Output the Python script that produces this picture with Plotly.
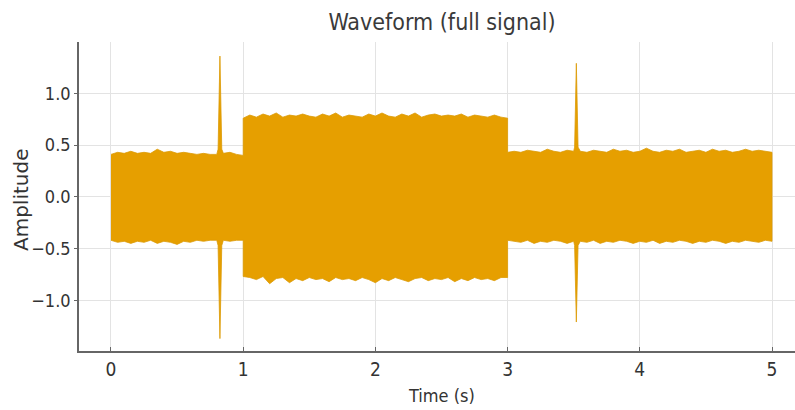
import plotly.graph_objects as go

# Envelope of the waveform (time in s, amplitude)
env_time = [
    0.00, 0.05, 0.10, 0.15, 0.20, 0.25, 0.30, 0.35, 0.40, 0.45,
    0.50, 0.55, 0.60, 0.65, 0.70, 0.75, 0.80, 0.81, 0.824, 0.838,
    0.85, 0.90, 0.95, 1.00, 1.00,
    1.05, 1.10, 1.15, 1.20, 1.25, 1.30, 1.35, 1.40, 1.45, 1.50,
    1.55, 1.60, 1.65, 1.70, 1.75, 1.80, 1.85, 1.90, 1.95, 2.00,
    2.05, 2.10, 2.15, 2.20, 2.25, 2.30, 2.35, 2.40, 2.45, 2.50,
    2.55, 2.60, 2.65, 2.70, 2.75, 2.80, 2.85, 2.90, 2.95, 3.00, 3.00,
    3.05, 3.10, 3.15, 3.20, 3.25, 3.30, 3.35, 3.40, 3.45, 3.50,
    3.507, 3.52, 3.533, 3.55, 3.60, 3.65, 3.70, 3.75, 3.80, 3.85,
    3.90, 3.95, 4.00, 4.05, 4.10, 4.15, 4.20, 4.25, 4.30, 4.35,
    4.40, 4.45, 4.50, 4.55, 4.60, 4.65, 4.70, 4.75, 4.80, 4.85,
    4.90, 4.95, 5.00,
]
env_upper = [
    0.41, 0.43, 0.42, 0.44, 0.42, 0.43, 0.42, 0.46, 0.43, 0.44,
    0.42, 0.43, 0.42, 0.41, 0.42, 0.41, 0.41, 0.46, 1.36, 0.46,
    0.42, 0.43, 0.41, 0.40, 0.76,
    0.79, 0.77, 0.80, 0.78, 0.81, 0.77, 0.79, 0.78, 0.80, 0.78,
    0.77, 0.80, 0.78, 0.81, 0.77, 0.79, 0.78, 0.77, 0.80, 0.78,
    0.81, 0.78, 0.77, 0.80, 0.78, 0.81, 0.77, 0.79, 0.80, 0.78,
    0.79, 0.78, 0.80, 0.77, 0.79, 0.78, 0.77, 0.79, 0.77, 0.76, 0.43,
    0.44, 0.43, 0.45, 0.44, 0.43, 0.46, 0.44, 0.43, 0.45, 0.44,
    0.48, 1.29, 0.48, 0.44, 0.43, 0.45, 0.44, 0.43, 0.46, 0.44,
    0.45, 0.43, 0.44, 0.47, 0.44, 0.43, 0.45, 0.44, 0.46, 0.43,
    0.44, 0.45, 0.43, 0.46, 0.44, 0.45, 0.43, 0.44, 0.46, 0.44,
    0.45, 0.44, 0.43,
]
env_lower = [
    -0.42, -0.44, -0.43, -0.45, -0.43, -0.44, -0.42, -0.45, -0.43, -0.44,
    -0.46, -0.43, -0.44, -0.42, -0.43, -0.42, -0.42, -0.47, -1.37, -0.47,
    -0.42, -0.43, -0.42, -0.42, -0.77,
    -0.78, -0.80, -0.77, -0.84, -0.79, -0.78, -0.83, -0.79, -0.81, -0.78,
    -0.80, -0.79, -0.82, -0.78, -0.80, -0.79, -0.81, -0.78, -0.80, -0.83,
    -0.79, -0.81, -0.78, -0.80, -0.82, -0.79, -0.78, -0.81, -0.79, -0.80,
    -0.78, -0.82, -0.79, -0.81, -0.78, -0.80, -0.79, -0.81, -0.78, -0.78, -0.42,
    -0.43, -0.44, -0.42, -0.45, -0.43, -0.44, -0.42, -0.43, -0.45, -0.43,
    -0.47, -1.21, -0.47, -0.43, -0.44, -0.42, -0.45, -0.43, -0.44, -0.42,
    -0.43, -0.45, -0.43, -0.44, -0.42, -0.45, -0.43, -0.44, -0.42, -0.43,
    -0.45, -0.43, -0.44, -0.42, -0.43, -0.45, -0.43, -0.44, -0.42, -0.43,
    -0.44, -0.42, -0.43,
]

x_ticks = [0, 1, 2, 3, 4, 5]
y_ticks = [-1.0, -0.5, 0.0, 0.5, 1.0]
y_tick_labels = ["\u22121.0", "\u22120.5", "0.0", "0.5", "1.0"]

ORANGE = "#E69F00"
FONT = "DejaVu Sans Condensed, Liberation Sans, Arial, sans-serif"

fig = go.Figure()
fig.add_trace(go.Scatter(
    x=env_time + env_time[::-1],
    y=env_upper + env_lower[::-1],
    fill="toself",
    fillcolor=ORANGE,
    mode="lines",
    line=dict(color="#DC9A05", width=0.8),
    hoverinfo="skip",
    showlegend=False,
))

W, H = 795, 410
L, R, T, B = 79, 0, 42, 59
pw = W - L - R
ph = H - T - B

fig.update_layout(
    width=W, height=H,
    margin=dict(l=L, r=R, t=T, b=B, pad=0),
    paper_bgcolor="white",
    plot_bgcolor="white",
    font=dict(family=FONT, color="#333333"),
    title=dict(
        text="Waveform (full signal)",
        font=dict(family=FONT, size=23, color="#3a3a3a"),
        xref="paper", x=(442 - L) / pw, xanchor="center",
        yref="container", y=1 - 22 / H, yanchor="middle",
    ),
    xaxis=dict(
        range=[-0.242, 5.174],
        tickvals=x_ticks,
        ticktext=[str(v) for v in x_ticks],
        showgrid=True, gridcolor="#e3e3e3", gridwidth=1,
        zeroline=False,
        showline=True, linecolor="#666666", linewidth=1.6,
        ticks="inside", ticklen=4, tickcolor="#666666",
        tickfont=dict(size=19, color="#333333"),
        fixedrange=True,
    ),
    yaxis=dict(
        range=[-1.49, 1.496],
        tickvals=y_ticks,
        ticktext=y_tick_labels,
        showgrid=True, gridcolor="#e3e3e3", gridwidth=1,
        zeroline=False,
        showline=True, linecolor="#666666", linewidth=1.6,
        ticks="outside", ticklen=3, tickcolor="#666666",
        ticklabelstandoff=0,
        tickfont=dict(size=18, color="#333333"),
        fixedrange=True,
    ),
    annotations=[
        dict(text="Time (s)", xref="paper", yref="paper",
             x=(442 - L) / pw, y=-(395 - (H - B)) / ph,
             xanchor="center", yanchor="middle", showarrow=False,
             font=dict(family=FONT, size=18, color="#333333")),
        dict(text="Amplitude", xref="paper", yref="paper",
             x=(21 - L) / pw, y=((H - B) - 200) / ph,
             xanchor="center", yanchor="middle", showarrow=False,
             textangle=-90,
             font=dict(family="DejaVu Sans, sans-serif", size=20, color="#333333")),
    ],
)

fig.write_html("out.html")
